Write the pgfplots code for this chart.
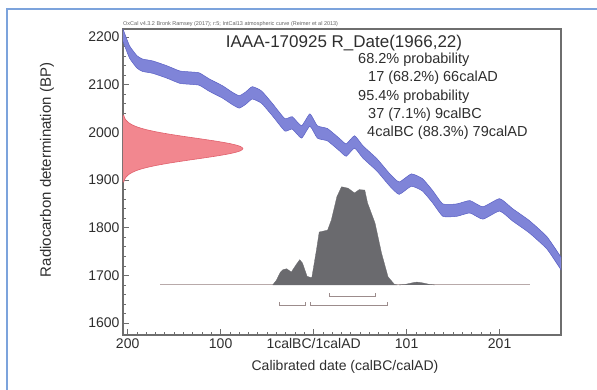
\documentclass[border=0pt]{standalone}
\usepackage{pgfplots}
\pgfplotsset{compat=1.18}
\usepackage{pgfplotstable}
\usepackage{fontspec}
\setmainfont{Liberation Sans}
\definecolor{bandfill}{HTML}{7F84D8}
\definecolor{bandedge}{HTML}{5A60C4}
\definecolor{redfill}{HTML}{F2878F}
\definecolor{rededge}{HTML}{E0606C}
\definecolor{distgrey}{HTML}{6A6A6E}
\definecolor{basegrey}{HTML}{B8AAAA}
\definecolor{brk}{HTML}{9C8C8C}
\definecolor{framec}{HTML}{6E6E6E}
\definecolor{txt}{HTML}{2E2E2E}
\definecolor{borderc}{HTML}{7CA3DC}

\pgfplotstableread{
year c hi lo
-205 2204 2217 2191
-198 2169 2182 2156
-190 2148 2161 2135
-184 2141 2154 2128
-173 2137 2150 2124
-158 2127 2140 2114
-144 2116 2129 2103
-133 2114 2127 2101
-123 2112 2125 2099
-112 2099 2112 2086
-98 2085 2098 2072
-88 2072 2085 2059
-80 2064 2077 2051
-73 2072 2085 2059
-66 2083 2096 2070
-56 2074 2087 2061
-44 2047 2060 2034
-31 2016 2029 2003
-23 2020 2033 2007
-13 2001 2014 1988
-4 2026 2039 2013
4 2001 2014 1988
15 1995 2008 1982
28 1974 1987 1961
35 1963 1976 1950
44 1980 1993 1967
53 1959 1972 1946
68 1932 1945 1919
82 1900 1913 1887
92 1883 1896 1870
105 1900 1913 1887
117 1890 1903 1877
128 1865 1878 1852
139 1837 1850 1824
154 1837 1850 1824
168 1844 1857 1831
182 1831 1844 1818
200 1848 1861 1835
214 1827 1840 1814
232 1802 1815 1789
251 1768 1781 1755
267 1722 1735 1709
}\curve

\begin{document}
\begin{tikzpicture}
\useasboundingbox (-123pt,-55pt) rectangle (474pt,335pt);
\begin{axis}[
  scale only axis, width=438pt, height=306pt, at={(0pt,0pt)}, anchor=south west,
  xmin=-205, xmax=266, ymin=1575, ymax=2217,
  axis line style={framec, line width=1.1pt},
  xtick={-200,-100,0,100,200},
  xticklabels={200,100,1calBC/1calAD,101,201},
  ytick={1600,1700,1800,1900,2000,2100,2200},
  minor x tick num=9, minor y tick num=4,
  tick align=inside, xtick pos=bottom, ytick pos=left,
  major tick length=6pt, minor tick length=3pt,
  tick style={framec, line width=0.7pt},
  tick label style={font=\fontsize{14}{16}\selectfont, text=txt},
  /pgf/number format/1000 sep={},
  /pgf/number format/assume math mode=true,
  clip=true,
]
% calibration curve band (upper edge forward, lower edge back)
\addplot[fill=bandfill, draw=none, smooth, tension=0.3] coordinates {
(-205,2217) (-198,2182) (-190,2161) (-184,2154) (-173,2150) (-158,2140) (-144,2129)
(-133,2127) (-123,2125) (-112,2112) (-98,2098) (-88,2085) (-80,2077) (-73,2085)
(-66,2096) (-56,2087) (-44,2060) (-31,2029) (-23,2033) (-13,2014) (-4,2039) (4,2014)
(15,2008) (28,1987) (35,1976) (44,1993) (53,1972) (68,1945) (82,1913) (92,1896)
(105,1913) (117,1903) (128,1878) (139,1850) (154,1850) (168,1857) (182,1844)
(200,1861) (214,1840) (232,1815) (251,1781) (267,1735)
(267,1709) (251,1755) (232,1789) (214,1814) (200,1835) (182,1818) (168,1831)
(154,1824) (139,1824) (128,1852) (117,1877) (105,1887) (92,1870) (82,1887) (68,1919)
(53,1946) (44,1967) (35,1950) (28,1961) (15,1982) (4,1988) (-4,2013) (-13,1988)
(-23,2007) (-31,2003) (-44,2034) (-56,2061) (-66,2070) (-73,2059) (-80,2051)
(-88,2059) (-98,2072) (-112,2086) (-123,2099) (-133,2101) (-144,2103) (-158,2114)
(-173,2124) (-184,2128) (-190,2135) (-198,2156) (-205,2191)};
\addplot[bandedge, line width=0.5pt, smooth, tension=0.3] table[x=year,y=hi]{\curve};
\addplot[bandedge, line width=0.5pt, smooth, tension=0.3] table[x=year,y=lo]{\curve};

% radiocarbon measurement distribution
\addplot[fill=redfill, draw=rededge, line width=0.6pt, smooth] coordinates {
(-205,1896) (-204.2,1896) (-203.4,1901) (-201.9,1906) (-199.3,1911) (-195.2,1916)
(-189.1,1921) (-180.3,1926) (-168.6,1931) (-154.1,1936) (-137.4,1941) (-119.7,1946)
(-102.8,1951) (-88.7,1956) (-79.3,1961) (-76,1966) (-79.3,1971) (-88.7,1976)
(-102.8,1981) (-119.7,1986) (-137.4,1991) (-154.1,1996) (-168.6,2001) (-180.3,2006)
(-189.1,2011) (-195.2,2016) (-199.3,2021) (-201.9,2026) (-203.4,2031) (-204.2,2036)
(-205,2036)};

% baseline
\addplot[basegrey, line width=1pt] coordinates {(-165,1680) (233,1680)};

% calibrated distribution
\addplot[fill=distgrey, draw=distgrey, line width=0.3pt] coordinates {
(-44,1680) (-40,1690) (-36,1706) (-33,1712) (-29,1714) (-24,1707) (-19,1722)
(-15,1733) (-12,1726) (-7,1698) (-2,1695) (1,1730) (3,1753) (6,1791) (15,1795)
(19,1816) (25,1865) (30,1886) (37,1883) (44,1873) (49,1880) (55,1879) (58,1852)
(66,1810) (73,1747) (80,1697) (87,1681) (90,1680) (-44,1680)};
\addplot[fill=distgrey, draw=distgrey, line width=0.3pt, smooth] coordinates {
(92,1680) (98,1681) (105,1684) (111,1686) (118,1684) (125,1681) (130,1680)};

% probability range brackets
\addplot[brk, line width=0.8pt] coordinates {(17,1663) (17,1657) (66,1657) (66,1663)};
\addplot[brk, line width=0.8pt] coordinates {(-37,1644) (-37,1638) (-9,1638) (-9,1644)};
\addplot[brk, line width=0.8pt] coordinates {(-4,1644) (-4,1638) (79,1638) (79,1644)};
\end{axis}

\draw[borderc, line width=2pt] (-116pt,-55pt) -- (-116pt,326pt) -- (474pt,326pt);

\node[anchor=west, inner sep=0pt, font=\fontsize{5.5}{6}\selectfont, text=txt!75] at (0pt,311pt)
  {OxCal v4.3.2 Bronk Ramsey (2017); r:5; IntCal13 atmospheric curve (Reimer et al 2013)};
\node[inner sep=0pt, font=\fontsize{17}{20}\selectfont, text=txt] at (221pt,292pt)
  {IAAA-170925 R\_Date(1966,22)};
\begin{scope}[every node/.style={anchor=west, inner sep=0pt, font=\fontsize{14.5}{17}\selectfont, text=txt}]
\node at (235pt,275pt) {68.2\% probability};
\node at (245pt,257pt) {17 (68.2\%) 66calAD};
\node at (235pt,238pt) {95.4\% probability};
\node at (245pt,220pt) {37 (7.1\%) 9calBC};
\node at (244pt,202pt) {4calBC (88.3\%) 79calAD};
\end{scope}
\node[rotate=90, inner sep=0pt, font=\fontsize{15}{18}\selectfont, text=txt] at (-76pt,165pt)
  {Radiocarbon determination (BP)};
\node[inner sep=0pt, font=\fontsize{14}{16}\selectfont, text=txt] at (222pt,-32pt)
  {Calibrated date (calBC/calAD)};
\end{tikzpicture}
\end{document}
